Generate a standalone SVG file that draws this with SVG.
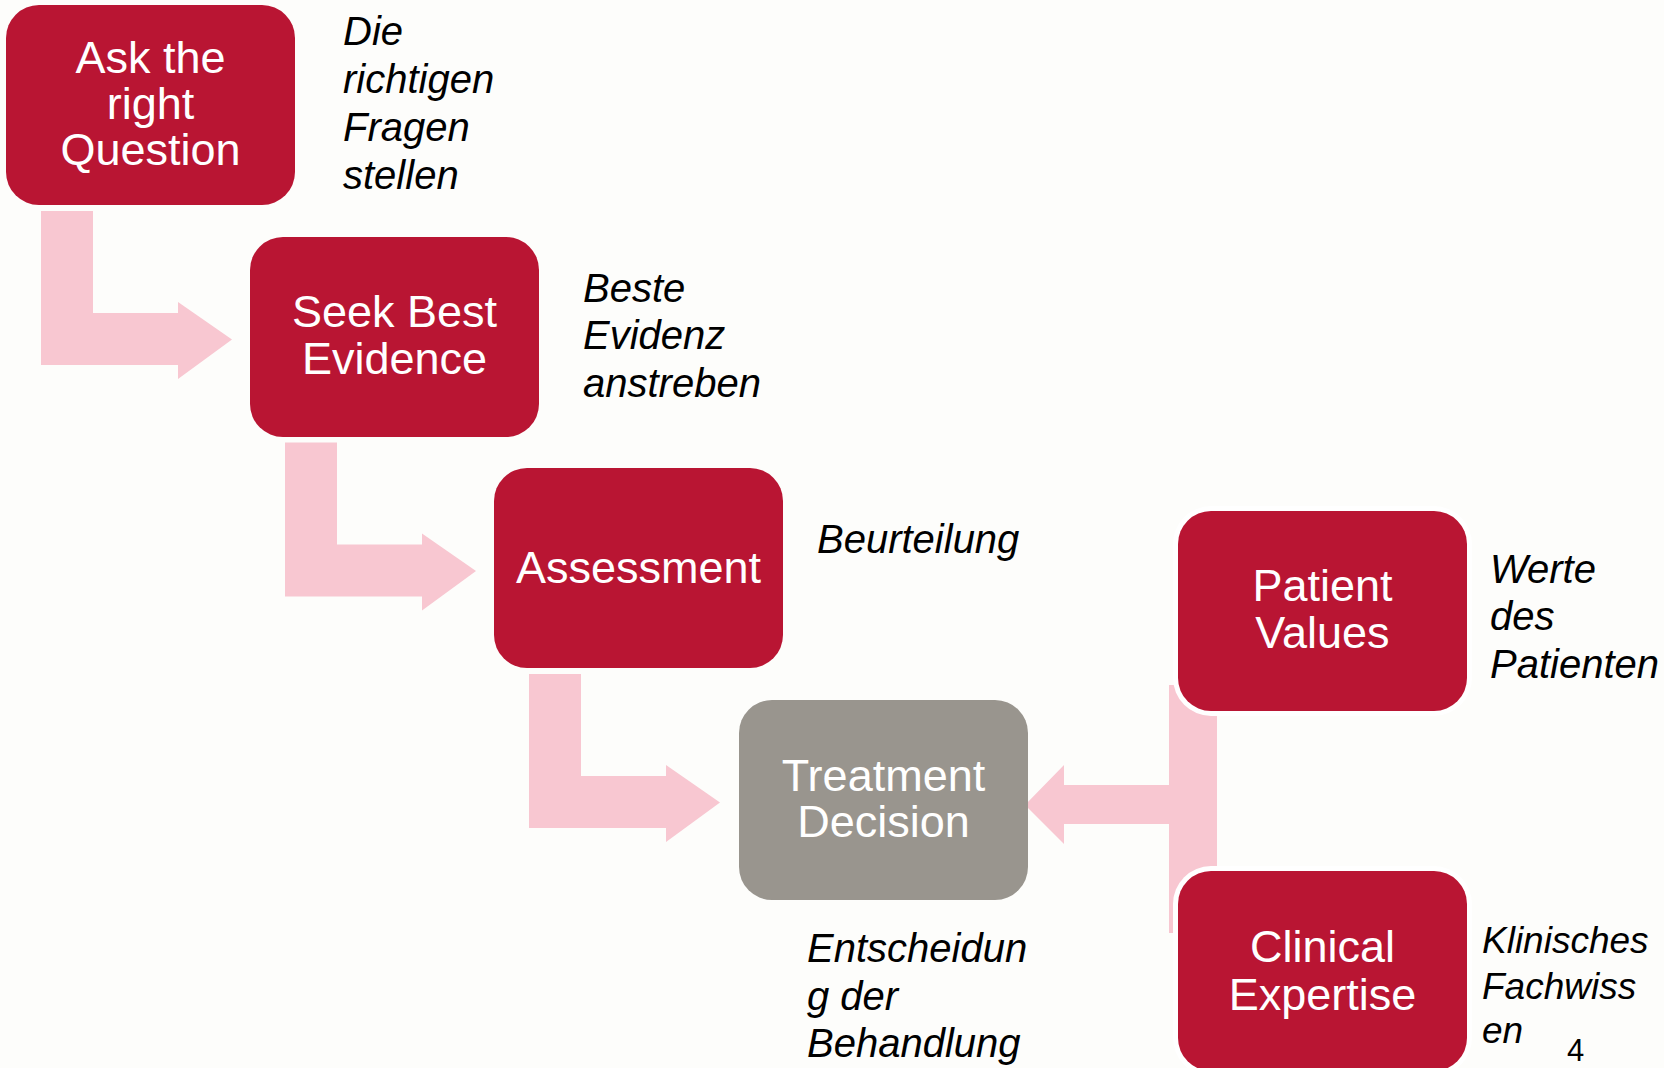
<svg xmlns="http://www.w3.org/2000/svg" width="1664" height="1068" viewBox="0 0 1664 1068">
<style>
.bg{fill:#FDFDFB}
.arrow{fill:#F8C7D1}
.halo{fill:#FFFFFF}
.red{fill:#B91533}
.gray{fill:#99958E}
.lbl{font-family:"Liberation Sans",Arial,sans-serif;font-size:45px;fill:#FFFFFF;text-anchor:middle}
.note{font-family:"Liberation Sans",Arial,sans-serif;font-size:40px;font-style:italic;fill:#000000}
.note2{font-family:"Liberation Sans",Arial,sans-serif;font-size:37px;font-style:italic;fill:#000000}
.pg{font-family:"Liberation Sans",Arial,sans-serif;font-size:31px;fill:#000000}
</style>
<rect class="bg" x="0" y="0" width="1664" height="1068"/>
<g id="connectors">
<path class="arrow" d="M41 211 H93 V313 H178 V302 L232 339.5 L178 379 V365 H41 Z"/>
<path class="arrow" d="M285 442.5 H337 V544.5 H422 V533.5 L476 571 L422 610.5 V596.5 H285 Z"/>
<path class="arrow" d="M529 674 H581 V776 H666 V765 L720 802.5 L666 842 V828 H529 Z"/>
<path class="arrow" d="M1169 685 H1217 V933 H1169 V824 H1064 V844 L1025 805 L1064 765 V785 H1169 Z"/>
</g>
<g id="ask">
<rect class="red" x="6" y="5" width="289" height="200" rx="33"/>
<text class="lbl" x="150.5" y="73">Ask the</text>
<text class="lbl" x="150.5" y="119">right</text>
<text class="lbl" x="150.5" y="165">Question</text>
</g>
<g id="seek">
<rect class="red" x="250" y="237" width="289" height="200" rx="33"/>
<text class="lbl" x="394.5" y="327">Seek Best</text>
<text class="lbl" x="394.5" y="374">Evidence</text>
</g>
<g id="assessment">
<rect class="red" x="494" y="468" width="289" height="200" rx="33"/>
<text class="lbl" x="638.5" y="583">Assessment</text>
</g>
<g id="treatment">
<rect class="gray" x="739" y="700" width="289" height="200" rx="33"/>
<text class="lbl" x="883.5" y="791">Treatment</text>
<text class="lbl" x="883.5" y="837">Decision</text>
</g>
<g id="patient">
<rect class="halo" x="1173" y="506" width="299" height="210" rx="38"/>
<rect class="red" x="1178" y="511" width="289" height="200" rx="33"/>
<text class="lbl" x="1322.5" y="601">Patient</text>
<text class="lbl" x="1322.5" y="648">Values</text>
</g>
<g id="clinical">
<rect class="halo" x="1173" y="866" width="299" height="210" rx="38"/>
<rect class="red" x="1178" y="871" width="289" height="200" rx="33"/>
<text class="lbl" x="1322.5" y="962">Clinical</text>
<text class="lbl" x="1322.5" y="1010">Expertise</text>
</g>
<g id="notes">
<text class="note" x="343" y="45">Die</text>
<text class="note" x="343" y="93">richtigen</text>
<text class="note" x="343" y="141">Fragen</text>
<text class="note" x="343" y="189">stellen</text>
<text class="note" x="583" y="302">Beste</text>
<text class="note" x="583" y="349">Evidenz</text>
<text class="note" x="583" y="397">anstreben</text>
<text class="note" x="817" y="553">Beurteilung</text>
<text class="note" x="1490" y="583">Werte</text>
<text class="note" x="1490" y="630">des</text>
<text class="note" x="1490" y="678">Patienten</text>
<text class="note" x="807" y="962">Entscheidun</text>
<text class="note" x="807" y="1010">g der</text>
<text class="note" x="807" y="1057">Behandlung</text>
<text class="note2" x="1482" y="953">Klinisches</text>
<text class="note2" x="1482" y="999">Fachwiss</text>
<text class="note2" x="1482" y="1043">en</text>
<text class="pg" x="1567" y="1061">4</text>
</g>
</svg>
